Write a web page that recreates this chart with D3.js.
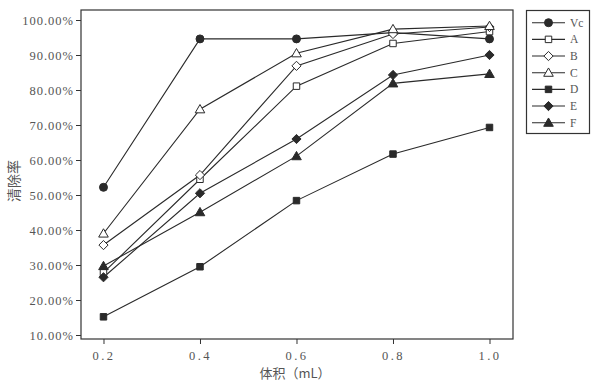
<!DOCTYPE html>
<html><head><meta charset="utf-8">
<script src="https://cdn.jsdelivr.net/npm/d3@7"></script>
<style>body{margin:0;background:#fff}</style>
</head><body>
<svg id="c" width="597" height="387"></svg>
<script>
const xValues = [0.2, 0.4, 0.6, 0.8, 1.0];
const seriesNames = ["Vc", "A", "B", "C", "D", "E", "F"];
const seriesSymbols = ["circleFill", "squareOpen", "diamondOpen", "triangleOpen", "squareFill", "diamondFill", "triangleFill"];
const vcValues = [52.2, 94.6, 94.6, 96.4, 94.6];
const aValues = [27.8, 54.5, 81.1, 93.3, 96.7];
const bValues = [35.7, 55.7, 86.9, 96.0, 98.0];
const cValues = [39.0, 74.5, 90.5, 97.4, 98.3];
const dValues = [15.2, 29.5, 48.4, 61.7, 69.3];
const eValues = [26.5, 50.5, 66.0, 84.3, 90.0];
const fValues = [29.7, 45.1, 61.1, 81.9, 84.6];
const yTicks = [10, 20, 30, 40, 50, 60, 70, 80, 90, 100];
const yTickLabels = ["10.00%", "20.00%", "30.00%", "40.00%", "50.00%", "60.00%", "70.00%", "80.00%", "90.00%", "100.00%"];
const xTickLabels = ["0.2", "0.4", "0.6", "0.8", "1.0"];
const xTitle = "体积（mL）";
const yTitle = "清除率";

const allSeries = [vcValues, aValues, bValues, cValues, dValues, eValues, fValues];

const svg = d3.select("#c");
const L = 81, R = 513, T = 10, B = 339;
const x = d3.scaleLinear().domain([0.1534, 1.0487]).range([L, R]);
const y = d3.scaleLinear().domain([8.86, 102.86]).range([B, T]);
const ink = "#2a2a2a";
const font = "'Liberation Serif','DejaVu Serif',serif";

svg.append("rect").attr("x", L).attr("y", T).attr("width", R - L).attr("height", B - T)
  .attr("fill", "none").attr("stroke", "#333").attr("stroke-width", 1.2);

const yAxis = d3.axisLeft(y).tickValues(yTicks).tickSize(5).tickFormat((d, i) => yTickLabels[i]);
const gy = svg.append("g").attr("transform", `translate(${L},0)`).call(yAxis);
gy.select(".domain").remove();
gy.selectAll("line").attr("stroke", "#333");
gy.selectAll("text").attr("font-family", font).attr("font-size", 12.5).attr("letter-spacing", 1)
  .attr("fill", "#555").attr("x", -7);

const xAxis = d3.axisBottom(x).tickValues(xValues).tickSize(5).tickFormat((d, i) => xTickLabels[i]);
const gx = svg.append("g").attr("transform", `translate(0,${B})`).call(xAxis);
gx.select(".domain").remove();
gx.selectAll("line").attr("stroke", "#333");
gx.selectAll("text").attr("font-family", font).attr("font-size", 12.5).attr("letter-spacing", 2.5)
  .attr("fill", "#555").attr("y", 12);

svg.append("text").attr("x", 295).attr("y", 378).attr("text-anchor", "middle")
  .attr("font-family", "'Noto Sans CJK SC',sans-serif").attr("font-size", 13).attr("fill", "#555").text(xTitle);
svg.append("text").attr("transform", "translate(19,181) rotate(-90)").attr("text-anchor", "middle")
  .attr("font-family", "'Noto Sans CJK SC',sans-serif").attr("font-size", 14).attr("fill", "#555").text(yTitle);

function drawSymbol(g, kind, cx, cy) {
  const filled = kind.endsWith("Fill");
  const fill = filled ? ink : "#fff";
  let d, dy = 0;
  if (kind.startsWith("circle")) d = d3.symbol().type(d3.symbolCircle).size(50)();
  else if (kind.startsWith("square")) d = d3.symbol().type(d3.symbolSquare).size(42)();
  else if (kind.startsWith("diamond")) { const r = 4.6; d = `M0,${-r}L${r},0L0,${r}L${-r},0Z`; }
  else { d = d3.symbol().type(d3.symbolTriangle).size(40)(); dy = 0.8; }
  g.append("path").attr("d", d)
    .attr("transform", `translate(${cx},${cy + dy})`)
    .attr("fill", fill).attr("stroke", ink).attr("stroke-width", 1);
}

const line = d3.line().x((d, i) => x(xValues[i])).y(d => y(d));
allSeries.forEach((vals) => {
  svg.append("path").datum(vals).attr("d", line).attr("fill", "none").attr("stroke", ink).attr("stroke-width", 1.1);
});
allSeries.forEach((vals, si) => {
  const g = svg.append("g");
  vals.forEach((v, i) => drawSymbol(g, seriesSymbols[si], x(xValues[i]), y(v)));
});

// legend
const lg = svg.append("g");
lg.append("rect").attr("x", 526.5).attr("y", 10.5).attr("width", 63).attr("height", 123)
  .attr("fill", "#fff").attr("stroke", "#333").attr("stroke-width", 1.2);
seriesNames.forEach((n, i) => {
  const yy = 22.7 + i * 16.67;
  lg.append("line").attr("x1", 532).attr("x2", 565).attr("y1", yy).attr("y2", yy).attr("stroke", ink).attr("stroke-width", 1.1);
  drawSymbol(lg, seriesSymbols[i], 548.5, yy);
  lg.append("text").attr("x", 570).attr("y", yy + 4).attr("font-family", font).attr("font-size", 11.5).attr("fill", "#555").text(n);
});
</script>
</body></html>
